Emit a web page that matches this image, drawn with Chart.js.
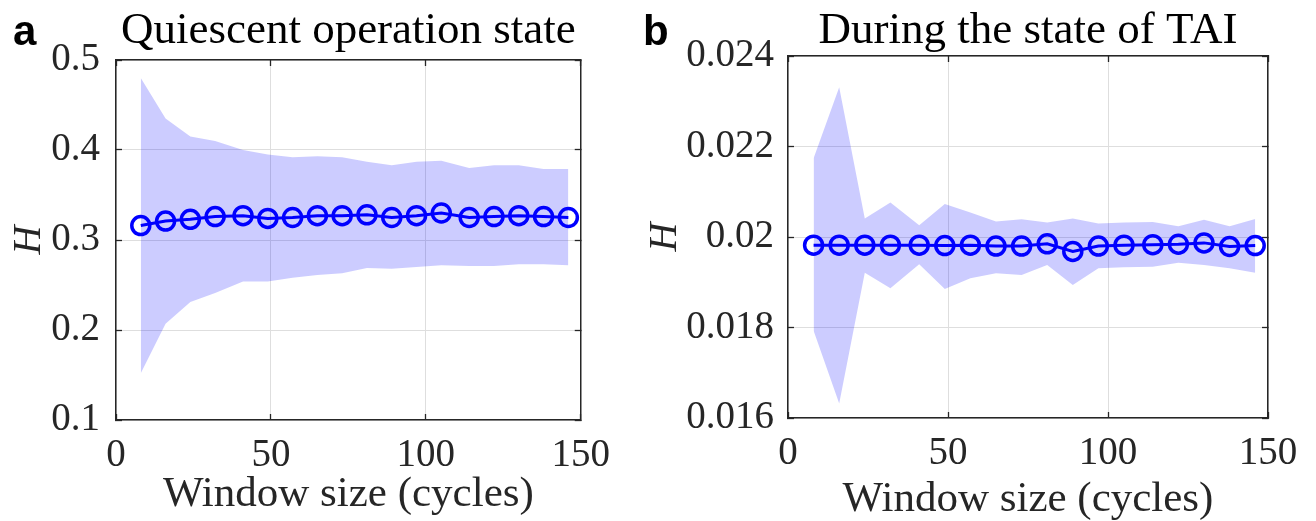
<!DOCTYPE html>
<html>
<head>
<meta charset="utf-8">
<title>Hurst exponent vs window size</title>
<script src="https://cdn.jsdelivr.net/npm/chart.js@4.4.1/dist/chart.umd.min.js"></script>
<style>
  body { margin: 0; background: #fff; }
  #wrap { position: relative; width: 1316px; height: 521px; overflow: hidden; }
  .panel { position: absolute; top: 0; height: 521px; }
</style>
</head>
<body>
<div id="wrap">
  <div class="panel" style="left:0;width:628px"><canvas id="chartA" width="628" height="521"></canvas></div>
  <div class="panel" style="left:628px;width:688px"><canvas id="chartB" width="688" height="521"></canvas></div>
</div>
<script>
// window sizes (cycles), shared by both panels
var windowSize = [8, 16, 24, 32, 41, 49, 57, 65, 73, 81, 89, 97, 105, 114, 122, 130, 138, 146];
var xTicks = [0, 50, 100, 150];

// panel a : quiescent operation
var quietMean  = [0.316, 0.321, 0.323, 0.326, 0.327, 0.324, 0.325, 0.327, 0.327, 0.328, 0.325, 0.327, 0.330, 0.325, 0.326, 0.327, 0.326, 0.325];
var quietUpper = [0.480, 0.435, 0.415, 0.410, 0.400, 0.395, 0.392, 0.393, 0.392, 0.387, 0.383, 0.387, 0.388, 0.380, 0.383, 0.383, 0.379, 0.379];
var quietLower = [0.152, 0.207, 0.231, 0.241, 0.254, 0.254, 0.258, 0.261, 0.263, 0.269, 0.268, 0.270, 0.272, 0.271, 0.271, 0.273, 0.273, 0.272];
var quietTicks = [0.1, 0.2, 0.3, 0.4, 0.5];

// panel b : during TAI
var taiMean  = [0.01982, 0.01982, 0.01982, 0.01982, 0.01982, 0.01981, 0.01982, 0.01980, 0.01980, 0.01985, 0.01968, 0.01980, 0.01982, 0.01983, 0.01984, 0.01987, 0.01979, 0.01981];
var taiUpper = [0.02174, 0.02331, 0.02041, 0.02076, 0.02026, 0.02073, 0.02054, 0.02034, 0.02039, 0.02032, 0.02041, 0.02030, 0.02032, 0.02033, 0.02024, 0.02038, 0.02024, 0.02040];
var taiLower = [0.01793, 0.01632, 0.01921, 0.01887, 0.01940, 0.01885, 0.01909, 0.01920, 0.01916, 0.01938, 0.01894, 0.01931, 0.01933, 0.01934, 0.01943, 0.01938, 0.01931, 0.01921];
var taiTicks = [0.016, 0.018, 0.02, 0.022, 0.024];

var axisColor = '#262626';
var gridColor = '#dedede';
var serif = '"Liberation Serif", "Times New Roman", serif';

function pts(ys) {
  return windowSize.map(function (x, i) { return { x: x, y: ys[i] }; });
}

function fmt(v) {
  return String(parseFloat(Number(v).toFixed(4)));
}

// panel letter and title, centred over the plot area
var panelText = {
  id: 'panelText',
  afterDraw: function (chart, args, opts) {
    var ctx = chart.ctx;
    var area = chart.chartArea;
    ctx.save();
    ctx.fillStyle = '#000';
    ctx.textBaseline = 'alphabetic';
    ctx.font = 'bold 42px "Liberation Sans", Arial, sans-serif';
    ctx.textAlign = 'left';
    ctx.fillText(opts.letter, opts.letterX, 45);
    ctx.font = '45px ' + serif;
    ctx.textAlign = 'center';
    ctx.fillText(opts.title, (area.left + area.right) / 2, 43);
    ctx.restore();
  }
};

function makePanel(id, p) {
  var ticksFrom = function (list) {
    return function (scale) {
      scale.ticks = list.map(function (v) { return { value: v }; });
    };
  };
  var boxAxis = function (pos, min, max, list) {
    return {
      type: 'linear',
      position: pos,
      min: min,
      max: max,
      afterBuildTicks: ticksFrom(list),
      ticks: { display: false },
      grid: { display: true, drawOnChartArea: false, drawTicks: true, tickLength: -6, tickColor: axisColor, tickWidth: 1.3 },
      border: { display: true, color: axisColor, width: 1.5 },
      afterFit: function (s) { if (pos === 'top') s.height = 0; else s.width = 0; }
    };
  };

  new Chart(document.getElementById(id), {
    type: 'line',
    data: {
      datasets: [
        {
          label: 'H',
          data: pts(p.mean),
          borderColor: '#0000ff',
          borderWidth: 3,
          pointRadius: 9,
          pointBorderWidth: 3.5,
          pointBorderColor: '#0000ff',
          pointBackgroundColor: 'rgba(0,0,0,0)',
          fill: false,
          tension: 0
        },
        {
          label: 'upper',
          data: pts(p.upper),
          borderColor: 'rgba(0,0,0,0)',
          borderWidth: 1,
          pointRadius: 0,
          backgroundColor: 'rgba(0,0,255,0.2)',
          fill: '+1',
          tension: 0
        },
        {
          label: 'lower',
          data: pts(p.lower),
          borderColor: 'rgba(0,0,0,0)',
          borderWidth: 1,
          pointRadius: 0,
          fill: false,
          tension: 0
        }
      ]
    },
    options: {
      responsive: false,
      animation: false,
      events: [],
      layout: { padding: { left: 0, top: p.top, right: p.right, bottom: 0 } },
      plugins: {
        legend: { display: false },
        tooltip: { enabled: false },
        panelText: { letter: p.letter, letterX: p.letterX, title: p.title }
      },
      scales: {
        x: {
          type: 'linear',
          position: 'bottom',
          min: 0,
          max: 150,
          afterBuildTicks: ticksFrom(xTicks),
          ticks: { color: axisColor, font: { family: serif, size: 39 }, padding: 18, maxRotation: 0, callback: fmt },
          grid: { color: gridColor, lineWidth: 1, drawTicks: true, tickLength: -6, tickColor: axisColor, tickWidth: 1.3 },
          border: { display: true, color: axisColor, width: 1.5 },
          title: { display: true, text: 'Window size (cycles)', color: axisColor, font: { family: serif, size: 43 }, padding: { top: 0, bottom: p.xTitlePad } },
          afterFit: function (s) { s.height = p.xHeight; }
        },
        y: {
          type: 'linear',
          position: 'left',
          min: p.yTicks[0],
          max: p.yTicks[p.yTicks.length - 1],
          afterBuildTicks: ticksFrom(p.yTicks),
          ticks: { color: axisColor, font: { family: serif, size: 39 }, padding: p.yTickPad, callback: fmt },
          grid: { color: gridColor, lineWidth: 1, drawTicks: true, tickLength: -6, tickColor: axisColor, tickWidth: 1.3 },
          border: { display: true, color: axisColor, width: 1.5 },
          title: { display: true, text: 'H', color: axisColor, font: { family: serif, size: 40, style: 'italic' }, padding: { top: p.yTitlePad, bottom: 0 } },
          afterFit: function (s) { s.width = p.yWidth; }
        },
        xTop: boxAxis('top', 0, 150, xTicks),
        yRight: boxAxis('right', p.yTicks[0], p.yTicks[p.yTicks.length - 1], p.yTicks)
      }
    },
    plugins: [panelText]
  });
}

makePanel('chartA', {
  letter: 'a', letterX: 13, title: 'Quiescent operation state',
  mean: quietMean, upper: quietUpper, lower: quietLower, yTicks: quietTicks,
  top: 60, right: 40, yWidth: 116, xHeight: 101,
  yTickPad: 22, yTitlePad: 5, xTitlePad: 0
});

makePanel('chartB', {
  letter: 'b', letterX: 15, title: 'During the state of TAI',
  mean: taiMean, upper: taiUpper, lower: taiLower, yTicks: taiTicks,
  top: 56, right: 48, yWidth: 160, xHeight: 103,
  yTickPad: 20, yTitlePad: 13, xTitlePad: -5
});
</script>
</body>
</html>
